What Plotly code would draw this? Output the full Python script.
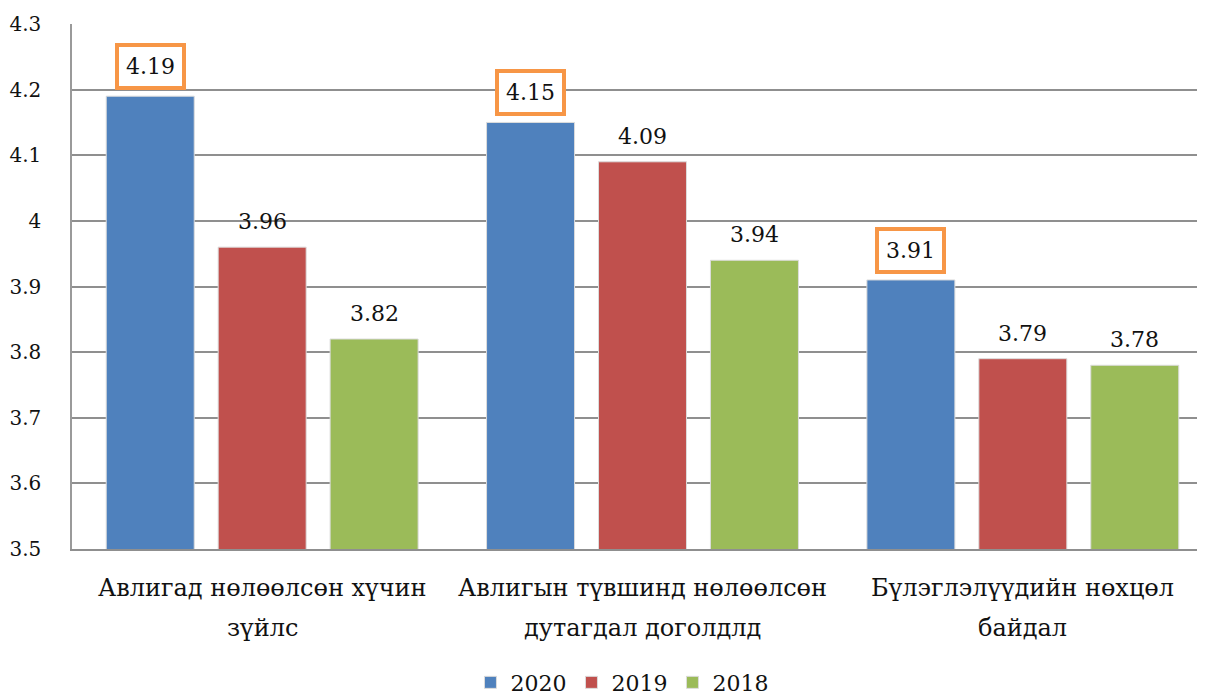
import plotly.graph_objects as go

categories = ["Авлигад нөлөөлсөн хүчин\nзүйлс",
              "Авлигын түвшинд нөлөөлсөн\nдутагдал доголдлд",
              "Бүлэглэлүүдийн нөхцөл\nбайдал"]
series_names = ["2020", "2019", "2018"]
values_2020 = [4.19, 4.15, 3.91]
values_2019 = [3.96, 4.09, 3.79]
values_2018 = [3.82, 3.94, 3.78]
highlight = ["2020"]
y_ticks = [3.5, 3.6, 3.7, 3.8, 3.9, 4.0, 4.1, 4.2, 4.3]
y_tick_labels = ["3.5", "3.6", "3.7", "3.8", "3.9", "4", "4.1", "4.2", "4.3"]

colors = ["#4F81BD", "#C0504D", "#9BBB59"]
FONT = "DejaVu Serif"
BARGAP = 0.117
BARGROUPGAP = 0.214

series_values = [values_2020, values_2019, values_2018]
x_idx = list(range(len(categories)))

fig = go.Figure()
for name, vals, col in zip(series_names, series_values, colors):
    fig.add_trace(go.Bar(
        x=x_idx, y=vals, name=name,
        marker=dict(color=col, line=dict(color="#dcdcdc", width=1)),
        hoverinfo="skip",
    ))

slot = (1 - BARGAP) / len(series_names)
annotations = []
for si, (name, vals) in enumerate(zip(series_names, series_values)):
    off = (si - (len(series_names) - 1) / 2) * slot
    for ci, v in enumerate(vals):
        txt = f"{v:.2f}"
        if name in highlight:
            annotations.append(dict(
                x=ci + off, y=v, xref="x", yref="y", text=txt,
                showarrow=False, yanchor="bottom", yshift=6,
                font=dict(family=FONT, size=22, color="#111"),
                bordercolor="#F79646", borderwidth=4, borderpad=7,
                bgcolor="white"))
        else:
            annotations.append(dict(
                x=ci + off, y=v, xref="x", yref="y", text=txt,
                showarrow=False, yanchor="bottom", yshift=11,
                font=dict(family=FONT, size=22, color="#111")))

for ci, cat in enumerate(categories):
    for li, line in enumerate(cat.split("\n")):
        annotations.append(dict(
            x=ci, y=0, xref="x", yref="paper", text=line,
            showarrow=False, yanchor="middle", yshift=-39 - 40 * li,
            font=dict(family=FONT, size=24, color="#111")))

fig.update_layout(
    width=1205, height=694,
    margin=dict(l=64, r=0, t=16, b=153, autoexpand=False),
    paper_bgcolor="white", plot_bgcolor="white",
    barmode="group", bargap=BARGAP, bargroupgap=BARGROUPGAP,
    font=dict(family=FONT, size=22, color="#111"),
    showlegend=True,
    legend=dict(orientation="h", x=0.482, xanchor="center",
                yref="container", y=0.028, yanchor="middle",
                font=dict(family=FONT, size=22),
                itemwidth=30, traceorder="normal"),
    annotations=annotations,
)
fig.update_xaxes(
    range=[-0.5, 2.5], showticklabels=False, showgrid=False,
    showline=True, linecolor="#8f8f8f", linewidth=2,
    tickvals=x_idx, zeroline=False,
)
fig.update_yaxes(
    range=[3.5, 4.3], tickvals=y_ticks, ticktext=y_tick_labels,
    showgrid=True, gridcolor="#8f8f8f", gridwidth=1.5,
    showline=True, linecolor="#9a9a9a", linewidth=1.5,
    ticks="outside", ticklen=0, ticklabelstandoff=25,
    tickfont=dict(family=FONT, size=20, color="#111"),
    zeroline=False,
)
fig.write_html("out.html")
